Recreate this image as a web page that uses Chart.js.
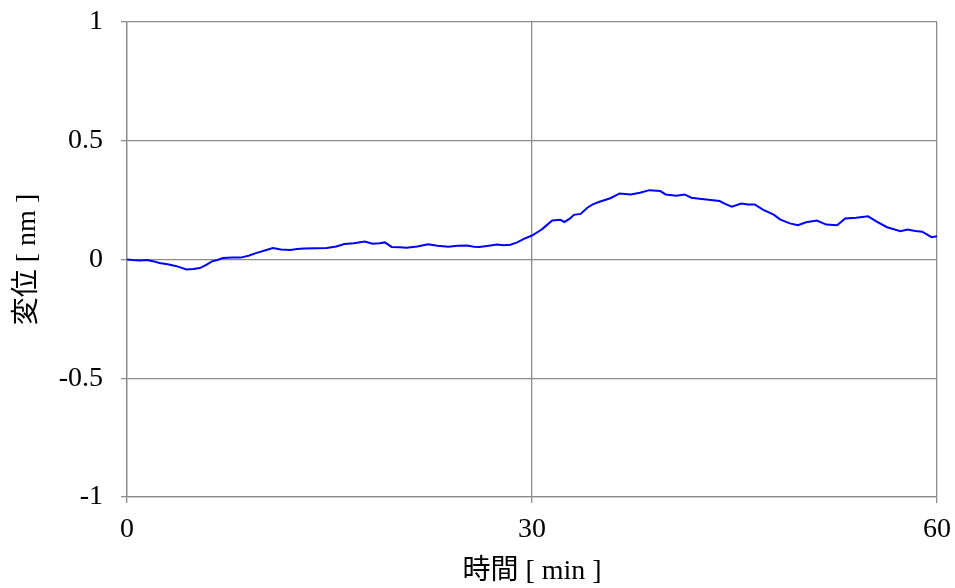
<!DOCTYPE html>
<html>
<head>
<meta charset="utf-8">
<script src="https://cdn.jsdelivr.net/npm/chart.js@4"></script>
<style>
  html, body { margin: 0; padding: 0; background: #fff; }
  #wrap { width: 955px; height: 588px; }
</style>
</head>
<body>
<div id="wrap"><canvas id="chart" width="955" height="588"></canvas></div>
<script>
// time [min]
const times = [0, 0.4, 1.0, 1.5, 2.0, 2.4, 3.0, 3.6, 4.0, 4.4, 4.9, 5.4, 5.9, 6.3, 6.7, 7.1, 7.8, 8.4, 9.0, 9.6,
  10.2, 10.8, 11.4, 12.1, 12.6, 13.1, 14.0, 14.8, 15.5, 16.1, 16.8, 17.6, 18.2, 18.7, 19.1, 19.6, 20.2, 20.7,
  21.5, 22.3, 23.0, 23.8, 24.5, 25.2, 25.7, 26.1, 26.8, 27.4, 27.9, 28.4, 28.9, 29.4, 30.0, 30.6, 30.8, 31.2,
  31.5, 32.1, 32.4, 32.8, 33.1, 33.6, 34.1, 34.5, 35.0, 35.8, 36.5, 37.3, 38.0, 38.7, 39.5, 39.9, 40.7, 41.3,
  41.8, 42.4, 42.9, 43.9, 44.3, 44.8, 45.5, 46.0, 46.5, 47.1, 47.9, 48.4, 49.1, 49.7, 50.3, 51.1, 51.8, 52.6,
  53.2, 54.0, 54.9, 55.5, 56.3, 57.3, 57.8, 58.4, 58.9, 59.6, 60.0];
// displacement [nm]
const disp = [0.0, -0.002, -0.004, -0.002, -0.008, -0.015, -0.02, -0.027, -0.034, -0.042, -0.04, -0.036, -0.022,
  -0.008, -0.002, 0.006, 0.008, 0.008, 0.016, 0.028, 0.038, 0.048, 0.042, 0.040, 0.044, 0.046, 0.047, 0.048,
  0.055, 0.065, 0.068, 0.076, 0.066, 0.068, 0.072, 0.053, 0.052, 0.049, 0.055, 0.064, 0.058, 0.054, 0.058,
  0.059, 0.054, 0.053, 0.058, 0.063, 0.060, 0.062, 0.072, 0.087, 0.101, 0.122, 0.13, 0.15, 0.164, 0.167,
  0.158, 0.172, 0.188, 0.192, 0.218, 0.232, 0.243, 0.258, 0.278, 0.274, 0.281, 0.292, 0.288, 0.274, 0.268,
  0.274, 0.26, 0.256, 0.253, 0.246, 0.234, 0.222, 0.236, 0.232, 0.232, 0.21, 0.189, 0.168, 0.152, 0.144,
  0.157, 0.164, 0.147, 0.144, 0.173, 0.176, 0.182, 0.161, 0.136, 0.119, 0.126, 0.12, 0.117, 0.094, 0.098];

const xTicks = [0, 30, 60];
const yTicks = [-1, -0.5, 0, 0.5, 1];

const serif = "'Liberation Serif', 'Times New Roman', 'Noto Sans CJK JP', serif";
const gridColor = '#8c8c8c';

const points = times.map((t, i) => ({ x: t, y: disp[i] }));

new Chart(document.getElementById('chart'), {
  type: 'line',
  data: {
    datasets: [{
      data: points,
      borderColor: '#0000ff',
      borderWidth: 2,
      pointRadius: 0,
      tension: 0,
      fill: false
    }]
  },
  options: {
    responsive: false,
    animation: false,
    layout: { padding: { top: 22, right: 18, left: 0, bottom: 0 } },
    plugins: { legend: { display: false }, tooltip: { enabled: false } },
    scales: {
      x: {
        type: 'linear',
        min: 0, max: 60,
        afterBuildTicks: s => { s.ticks = xTicks.map(v => ({ value: v })); },
        afterFit: s => { s.height = 91; s.paddingLeft = 0; s.paddingRight = 0; },
        grid: { color: gridColor, lineWidth: 1.3, tickLength: 6 },
        border: { color: gridColor, width: 1.3 },
        ticks: { color: '#000', font: { family: serif, size: 28 }, padding: 10, maxRotation: 0,
          callback: v => String(v) },
        title: { display: true, text: '時間 [ min ]', color: '#000',
          font: { family: serif, size: 28 }, padding: { top: 0, bottom: 0 } }
      },
      y: {
        min: -1, max: 1,
        afterBuildTicks: s => { s.ticks = yTicks.map(v => ({ value: v })); },
        afterFit: s => { s.width = 127; s.paddingTop = 0; s.paddingBottom = 0; },
        grid: { color: gridColor, lineWidth: 1.3, tickLength: 6 },
        border: { color: gridColor, width: 1.3 },
        ticks: { color: '#000', font: { family: serif, size: 28 }, padding: 18,
          callback: v => String(v) },
        title: { display: true, text: '変位 [ nm ]', color: '#000',
          font: { family: serif, size: 28 }, padding: { top: 11, bottom: 0 } }
      }
    }
  }
});
</script>
</body>
</html>
